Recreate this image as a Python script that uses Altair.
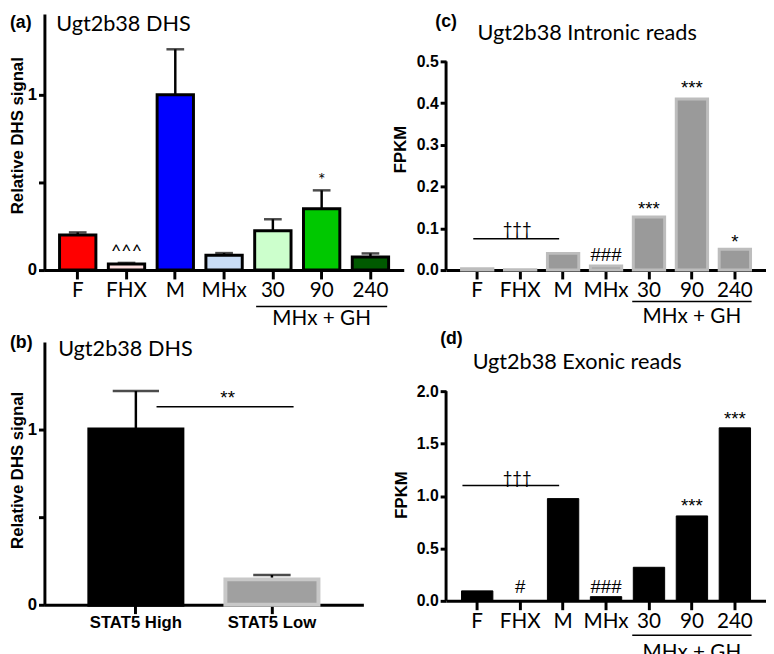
import altair as alt
import pandas as pd

# ---------------- data ----------------
cats = ["F", "FHX", "M", "MHx", "30", "90", "240"]

dhs_mean = [0.20, 0.035, 1.0, 0.085, 0.225, 0.35, 0.075]
dhs_sem = [0.015, 0.006, 0.26, 0.012, 0.065, 0.105, 0.02]
dhs_colors = ["#ff0000", "#ffe0e0", "#0000ff", "#c8dcf5", "#ccffcc", "#00c800", "#005a00"]

stat_cats = ["STAT5 High", "STAT5 Low"]
stat_mean = [1.0, 0.145]
stat_sem = [0.22, 0.025]
stat_fill = ["#000000", "#a0a0a0"]
stat_stroke = ["#000000", "#c8c8c8"]

intron = [0.003, 0.001, 0.04, 0.01, 0.127, 0.41, 0.05]
exon = [0.095, 0.0, 0.975, 0.04, 0.32, 0.81, 1.65]

a_sig_cat = ["FHX", "90"]
a_sig_txt = ["^^^", "*"]
a_sig_y = [0.10, 0.51]

c_sig_cat = ["MHx", "30", "90", "240"]
c_sig_txt = ["###", "***", "***", "*"]
c_sig_y = [0.035, 0.147, 0.437, 0.068]

d_sig_cat = ["FHX", "MHx", "90", "240"]
d_sig_txt = ["#", "###", "***", "***"]
d_sig_y = [0.13, 0.13, 0.90, 1.73]

b_sig_y_line = 1.13
b_sig_y_text = 1.18
c_dag_line, c_dag_text = 0.075, 0.097
d_dag_line, d_dag_text = 1.10, 1.16

titles = ["Ugt2b38 DHS", "Ugt2b38 DHS", "Ugt2b38 Intronic reads", "Ugt2b38 Exonic reads"]
letters = ["(a)", "(b)", "(c)", "(d)"]
group_label = "MHx + GH"

LAT = "Lato"
ARB = "Liberation Sans"


def xaxis(font=LAT, size=21, weight="normal"):
    return alt.Axis(title=None, labelAngle=0, labelFont=font, labelFontSize=size,
                    labelFontWeight=weight, labelColor="black", domainColor="black",
                    domainWidth=3, tickColor="black", tickWidth=3, tickSize=9,
                    labelPadding=1, grid=False)


def yaxis(title, values, tx, ty, fmt, expr=None, domain=True, lsize=16):
    kw = dict(title=title, values=values, format=fmt, titleFont=ARB, titleFontWeight="bold",
              titleFontSize=17, titleColor="black", titleX=tx, titleY=ty,
              titleAngle=270, titleAlign="center", titleBaseline="middle",
              labelFont=ARB, labelFontWeight="bold", labelFontSize=lsize,
              labelColor="black", labelPadding=2, tickSize=6, tickWidth=3,
              tickColor="black", domain=domain, domainColor="black", domainWidth=3,
              grid=False)
    if expr:
        kw["labelExpr"] = expr
    return alt.Axis(**kw)


def label_layers(letter, lx, ly, title, tx, ty):
    one = alt.Data(values=[{}])
    l1 = alt.Chart(one).mark_text(text=letter, font=ARB, fontWeight="bold", fontSize=18,
                                  align="left", baseline="middle", color="black").encode(
        x=alt.value(lx), y=alt.value(ly))
    l2 = alt.Chart(one).mark_text(text=title, font=LAT, fontSize=22, align="left",
                                  baseline="middle", color="black").encode(
        x=alt.value(tx), y=alt.value(ty))
    return [l1, l2]


def group_layers(xs, xa, H, line_off, text_off):
    gdf = pd.DataFrame({"cat": [cats[4]], "end": [cats[6]], "mid": [cats[5]], "lab": [group_label]})
    g = alt.Chart(gdf)
    rule = g.mark_rule(color="black", strokeWidth=1.5, xOffset=-17, x2Offset=17).encode(
        x=alt.X("cat:N", scale=xs, axis=xa), x2="end:N", y=alt.value(H + line_off))
    txt = g.mark_text(font=LAT, fontSize=21, color="black", baseline="middle").encode(
        x=alt.X("mid:N", scale=xs, axis=xa), y=alt.value(H + text_off), text="lab:N")
    return [rule, txt]


STAR = dict(font=ARB, fontSize=19, color="black", baseline="middle")
AB_EXPR = "datum.value == 0 || datum.value == 1 ? datum.label : ''"

# ---------------- panel a ----------------
WA, HA = 365, 260
xs_a = alt.Scale(domain=cats, paddingInner=0.255, paddingOuter=0.31)
ys_a = alt.Scale(domain=[0, HA / 178.0], nice=False)
xa_a = xaxis()
ya_a = yaxis("Relative DHS signal", [0, 0.5, 1], -27, 123, ".0f", expr=AB_EXPR, lsize=17)
df_a = pd.DataFrame({"cat": cats, "val": dhs_mean,
                     "top": [m + s for m, s in zip(dhs_mean, dhs_sem)]})
base_a = alt.Chart(df_a)
bars_a = base_a.mark_bar(stroke="black", strokeWidth=3).encode(
    x=alt.X("cat:N", scale=xs_a, axis=xa_a),
    y=alt.Y("val:Q", scale=ys_a, axis=ya_a),
    fill=alt.Fill("cat:N", scale=alt.Scale(domain=cats, range=dhs_colors), legend=None))
err_a = base_a.mark_rule(color="black", strokeWidth=2.5).encode(
    x=alt.X("cat:N", scale=xs_a, axis=xa_a), y=alt.Y("val:Q", scale=ys_a, axis=ya_a), y2="top:Q")
cap_a = base_a.mark_tick(color="black", thickness=2.5, size=18).encode(
    x=alt.X("cat:N", scale=xs_a, axis=xa_a), y=alt.Y("top:Q", scale=ys_a, axis=ya_a))
sig_a = alt.Chart(pd.DataFrame({"cat": a_sig_cat, "t": a_sig_txt, "val": a_sig_y})).mark_text(
    font=LAT, fontSize=18, color="black", baseline="middle").encode(
    x=alt.X("cat:N", scale=xs_a, axis=xa_a), y=alt.Y("val:Q", scale=ys_a, axis=ya_a), text="t:N")
panel_a = alt.layer(err_a, cap_a, bars_a, sig_a,
                    *label_layers(letters[0], -35, 9, titles[0], 12, 10),
                    *group_layers(xs_a, xa_a, HA, 37, 50)).properties(width=WA, height=HA)

# ---------------- panel b ----------------
WB, HB = 324, 267
xs_b = alt.Scale(domain=stat_cats, paddingInner=0.316, paddingOuter=0.33)
ys_b = alt.Scale(domain=[0, 1.5], nice=False)
xa_b = xaxis(font=ARB, size=17, weight="bold")
ya_b = yaxis("Relative DHS signal", [0, 0.5, 1], -27, 130, ".0f", expr=AB_EXPR, lsize=17)
df_b = pd.DataFrame({"grp": stat_cats, "val": stat_mean,
                     "top": [m + s for m, s in zip(stat_mean, stat_sem)]})
base_b = alt.Chart(df_b)
bars_b = base_b.mark_bar(strokeWidth=4).encode(
    x=alt.X("grp:N", scale=xs_b, axis=xa_b),
    y=alt.Y("val:Q", scale=ys_b, axis=ya_b),
    fill=alt.Fill("grp:N", scale=alt.Scale(domain=stat_cats, range=stat_fill), legend=None),
    stroke=alt.Stroke("grp:N", scale=alt.Scale(domain=stat_cats, range=stat_stroke), legend=None))
err_b = base_b.mark_rule(color="black", strokeWidth=2.5).encode(
    x=alt.X("grp:N", scale=xs_b, axis=xa_b), y=alt.Y("val:Q", scale=ys_b, axis=ya_b), y2="top:Q")
cap_b1 = base_b.transform_filter(alt.datum.grp == stat_cats[0]).mark_tick(
    color="black", thickness=2.5, size=47).encode(
    x=alt.X("grp:N", scale=xs_b, axis=xa_b), y=alt.Y("top:Q", scale=ys_b, axis=ya_b))
cap_b2 = base_b.transform_filter(alt.datum.grp == stat_cats[1]).mark_tick(
    color="black", thickness=2.5, size=38).encode(
    x=alt.X("grp:N", scale=xs_b, axis=xa_b), y=alt.Y("top:Q", scale=ys_b, axis=ya_b))
sdf_b = pd.DataFrame({"grp": [stat_cats[0]], "b": [stat_cats[1]], "val": [b_sig_y_line],
                      "ty": [b_sig_y_text], "t": ["**"]})
sig_rule_b = alt.Chart(sdf_b).mark_rule(color="black", strokeWidth=1.5, xOffset=21, x2Offset=22).encode(
    x=alt.X("grp:N", scale=xs_b, axis=xa_b), x2="b:N", y=alt.Y("val:Q", scale=ys_b, axis=ya_b))
sig_text_b = alt.Chart(sdf_b).mark_text(dx=-45, **STAR).encode(
    x=alt.X("b:N", scale=xs_b, axis=xa_b), y=alt.Y("ty:Q", scale=ys_b, axis=ya_b), text="t:N")
panel_b = alt.layer(err_b, cap_b1, cap_b2, bars_b, sig_rule_b, sig_text_b,
                    *label_layers(letters[1], -35, 1, titles[1], 14, 7)).properties(width=WB, height=HB)


# ---------------- panels c & d ----------------
def read_panel(vals, W, H, ymax, vals_ticks, fill, stroke, sw, title_xy, letter, letter_xy,
               title, title_xy2, sig, dag, dag_off, grp_off):
    xs = alt.Scale(domain=cats, paddingInner=0.27, paddingOuter=0.36)
    ys = alt.Scale(domain=[0, ymax], nice=False)
    xa = xaxis()
    ya = yaxis("FPKM", vals_ticks, title_xy[0], title_xy[1], ".1f", domain=False)
    df = pd.DataFrame({"cat": cats, "val": vals})
    bars = alt.Chart(df).mark_bar(fill=fill, stroke=stroke, strokeWidth=sw).encode(
        x=alt.X("cat:N", scale=xs, axis=xa),
        y=alt.Y("val:Q", scale=ys, axis=ya))
    ddf0 = pd.DataFrame({"val": [0.0], "v2": [vals_ticks[-1]]})
    ydom = alt.Chart(ddf0).mark_rule(color="black", strokeWidth=3).encode(
        x=alt.value(0), y=alt.Y("val:Q", scale=ys, axis=ya), y2="v2:Q")
    sig_df = pd.DataFrame({"cat": sig[0], "t": sig[1], "val": sig[2]})
    sig_t = alt.Chart(sig_df).mark_text(**STAR).encode(
        x=alt.X("cat:N", scale=xs, axis=xa), y=alt.Y("val:Q", scale=ys, axis=ya), text="t:N")
    ddf = pd.DataFrame({"cat": [cats[0]], "b": [cats[2]], "m": [cats[1]], "val": [dag[0]],
                        "ty": [dag[1]], "t": ["\u2020\u2020\u2020"]})
    dag_rule = alt.Chart(ddf).mark_rule(color="black", strokeWidth=1.5, xOffset=dag_off, x2Offset=-4).encode(
        x=alt.X("cat:N", scale=xs, axis=xa), x2="b:N", y=alt.Y("val:Q", scale=ys, axis=ya))
    dag_text = alt.Chart(ddf).mark_text(font=LAT, fontSize=17, color="black", baseline="middle", dx=-3).encode(
        x=alt.X("m:N", scale=xs, axis=xa), y=alt.Y("ty:Q", scale=ys, axis=ya), text="t:N")
    return alt.layer(bars, ydom, sig_t, dag_rule, dag_text,
                     *label_layers(letter, letter_xy[0], letter_xy[1], title, title_xy2[0], title_xy2[1]),
                     *group_layers(xs, xa, H, grp_off[0], grp_off[1])).properties(width=W, height=H)


WC, HC = 325, 260
panel_c = read_panel(intron, WC, HC, 260 / 424.0, [0, 0.1, 0.2, 0.3, 0.4, 0.5],
                     "#9a9a9a", "#bdbdbd", 3, (-46, 137), letters[2], (-11, 8),
                     titles[2], (32, 19), (c_sig_cat, c_sig_txt, c_sig_y),
                     (c_dag_line, c_dag_text), -4, (32, 48))
HD = 263
panel_d = read_panel(exon, WC, HD, 263 / 106.5, [0, 0.5, 1.0, 1.5, 2.0],
                     "#000000", "#000000", 1, (-45, 155), letters[3], (-6, -3),
                     titles[3], (27, 20), (d_sig_cat, d_sig_txt, d_sig_y),
                     (d_dag_line, d_dag_text), -15, (35, 53))

chart = alt.concat(panel_a, panel_c, panel_b, panel_d, columns=2,
                   spacing=alt.RowColnumber(row=73, column=43),
                   bounds="flush", align="each").resolve_scale(
    fill="independent", stroke="independent"
).properties(
    padding={"left": 0, "top": 0, "right": 0, "bottom": 0}
).configure_view(stroke=None).configure_axis(grid=False)

chart.save("out.html", embed_options={"renderer": "svg", "actions": False})
